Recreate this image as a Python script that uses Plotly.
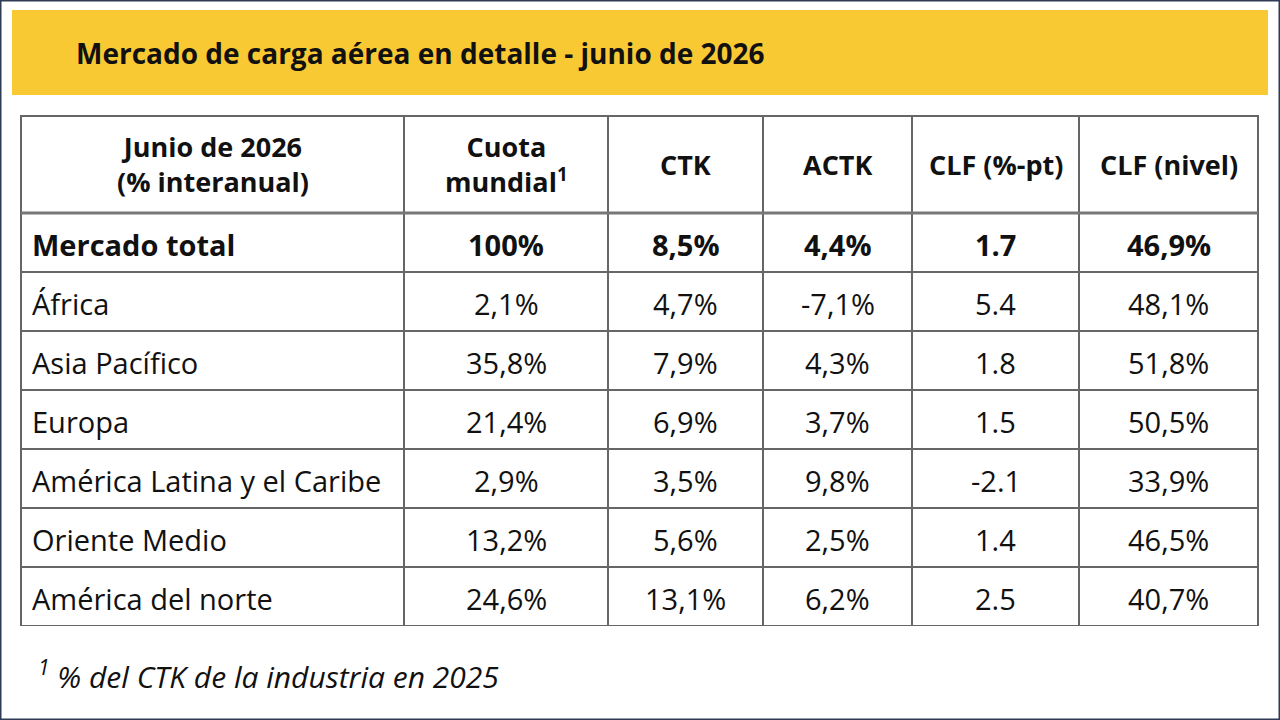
import plotly.graph_objects as go

W, H = 1280, 720

title = "Mercado de carga aérea en detalle - junio de 2026"
footnote = "<sup>1</sup> % del CTK de la industria en 2025"

headers = ["Junio de 2026<br>(% interanual)", "Cuota<br>mundial<sup>1</sup>",
           "CTK", "ACTK", "CLF (%-pt)", "CLF (nivel)"]
regions = ["Mercado total", "África", "Asia Pacífico", "Europa",
           "América Latina y el Caribe", "Oriente Medio", "América del norte"]
cuota = ["100%", "2,1%", "35,8%", "21,4%", "2,9%", "13,2%", "24,6%"]
ctk = ["8,5%", "4,7%", "7,9%", "6,9%", "3,5%", "5,6%", "13,1%"]
actk = ["4,4%", "-7,1%", "4,3%", "3,7%", "9,8%", "2,5%", "6,2%"]
clf_pt = ["1.7", "5.4", "1.8", "1.5", "-2.1", "1.4", "2.5"]
clf_lvl = ["46,9%", "48,1%", "51,8%", "50,5%", "33,9%", "46,5%", "40,7%"]

col_widths = [383, 204, 155, 149, 167, 179]
FONT = "Open Sans"
TXT = "#111111"
GRID = "#666666"

columns = [regions, cuota, ctk, actk, clf_pt, clf_lvl]

table_left, table_right = 21, 1258
table_top, header_bottom = 116, 213
row_h = 59
table_bottom = header_bottom + row_h * len(regions)

fig = go.Figure()
# the table gives the grid; its text is laid on as annotations so that
# every label sits vertically centred in its cell like in the slide
fig.add_trace(go.Table(
    domain=dict(x=[table_left / W, table_right / W],
                y=[1 - table_bottom / H, 1 - table_top / H]),
    columnwidth=col_widths,
    header=dict(values=[" "] * len(headers), height=header_bottom - table_top,
                fill=dict(color="white"), line=dict(color=GRID, width=1.5)),
    cells=dict(values=[[" "] * len(regions)] * len(columns), height=row_h,
               fill=dict(color="white"), line=dict(color=GRID, width=1.5)),
))

annotations = [
    dict(text="<b>%s</b>" % title, xref="paper", yref="paper",
         x=74 / W, y=1 - 53 / H, xanchor="left", yanchor="middle",
         showarrow=False, font=dict(family=FONT, size=28, color=TXT)),
    dict(text="<i>%s</i>" % footnote, xref="paper", yref="paper",
         x=36 / W, y=1 - 675 / H, xanchor="left", yanchor="middle",
         showarrow=False, font=dict(family=FONT, size=30, color=TXT)),
]

left = table_left
for j, (h, w, col) in enumerate(zip(headers, col_widths, columns)):
    annotations.append(dict(
        text="<b>%s</b>" % h, xref="paper", yref="paper",
        x=(left + w / 2) / W, y=1 - (table_top + header_bottom) / 2 / H,
        xanchor="center", yanchor="middle", align="center", showarrow=False,
        font=dict(family=FONT, size=27, color=TXT)))
    for i, v in enumerate(col):
        y = header_bottom + (i + 0.5) * row_h + 2
        annotations.append(dict(
            text="<b>%s</b>" % v if i == 0 else v,
            xref="paper", yref="paper",
            x=(left + 9) / W if j == 0 else (left + w / 2) / W, y=1 - y / H,
            xanchor="left" if j == 0 else "center", yanchor="middle",
            showarrow=False, font=dict(family=FONT, size=29, color=TXT)))
    left += w

fig.update_layout(
    width=W, height=H,
    margin=dict(l=0, r=0, t=0, b=0),
    paper_bgcolor="white",
    showlegend=False,
    shapes=[
        dict(type="rect", xref="paper", yref="paper",
             x0=12 / W, x1=1268 / W, y0=1 - 95 / H, y1=1 - 10 / H,
             fillcolor="#F9C933", line=dict(width=0), layer="below"),
        dict(type="line", xref="paper", yref="paper",
             x0=table_left / W, x1=table_right / W,
             y0=1 - header_bottom / H, y1=1 - header_bottom / H,
             line=dict(color="#777777", width=3), layer="above"),
        dict(type="rect", xref="paper", yref="paper",
             x0=0, x1=1, y0=0, y1=1,
             line=dict(color="#2E3B55", width=3)),
    ],
    annotations=annotations,
)

# no body margin so the 1280x720 figure sits flush in the window
fig.write_html("out.html", config={"displayModeBar": False},
               post_script="document.body.style.margin='0';")
